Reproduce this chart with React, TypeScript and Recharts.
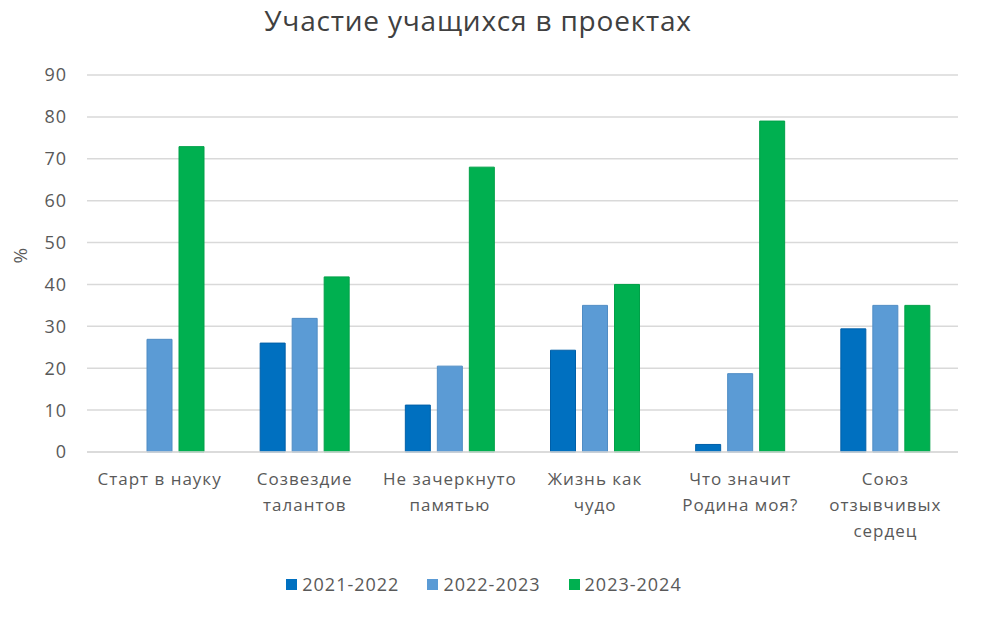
import React from 'react';
import { BarChart, Bar, XAxis, YAxis, CartesianGrid, Legend } from 'recharts';

const categories = [
  'Старт в науку',
  'Созвездие талантов',
  'Не зачеркнуто памятью',
  'Жизнь как чудо',
  'Что значит Родина моя?',
  'Союз отзывчивых сердец',
];
const categoryLines: string[][] = [
  ['Старт в науку'],
  ['Созвездие', 'талантов'],
  ['Не зачеркнуто', 'памятью'],
  ['Жизнь как', 'чудо'],
  ['Что значит', 'Родина моя?'],
  ['Союз', 'отзывчивых', 'сердец'],
];
const series2122: (number | null)[] = [null, 26, 11.2, 24.3, 1.8, 29.4];
const series2223: number[] = [26.9, 31.9, 20.5, 35, 18.7, 35];
const series2324: number[] = [72.9, 41.8, 68, 40, 79, 35];
const seriesNames = ['2021-2022', '2022-2023', '2023-2024'];
const seriesColors = ['#0070C0', '#5B9BD5', '#00B050'];
const yTicks = [0, 10, 20, 30, 40, 50, 60, 70, 80, 90];
const title = 'Участие учащихся в проектах';
const yLabel = '%';

const data = categories.map((c, i) => ({
  name: c,
  idx: i,
  s1: series2122[i],
  s2: series2223[i],
  s3: series2324[i],
}));

const FONT = '"Open Sans", "Noto Sans", sans-serif';
const TEXT = '#595959';

const XTick = (props: any) => {
  const { x, y, payload } = props;
  const lines = categoryLines[payload.index] || [String(payload.value)];
  return (
    <text x={x} y={y + 25} textAnchor="middle" fill={TEXT} fontSize={17} letterSpacing={1} fontFamily={FONT}>
      {lines.map((l, i) => (
        <tspan key={i} x={x} dy={i === 0 ? 0 : 26}>
          {l}
        </tspan>
      ))}
    </text>
  );
};

const LegendContent = () => (
  <div style={{ display: 'flex', justifyContent: 'center', gap: 28, fontFamily: FONT, fontSize: 18, letterSpacing: 1, color: TEXT, paddingTop: 5, paddingLeft: 10 }}>
    {seriesNames.map((n, i) => (
      <div key={n} style={{ display: 'flex', alignItems: 'center', gap: 5 }}>
        <div style={{ width: 11, height: 11, background: seriesColors[i] }} />
        <span>{n}</span>
      </div>
    ))}
  </div>
);

export default function App() {
  return (
    <div style={{ position: 'absolute', left: 0, top: 0, width: 981, height: 617, background: '#fff' }}>
      <div style={{ position: 'absolute', left: 0, top: 1, width: 956, textAlign: 'center', fontFamily: FONT, fontSize: 28, letterSpacing: 0.8, color: '#404040' }}>
        {title}
      </div>
      <BarChart
        width={981}
        height={617}
        data={data}
        margin={{ top: 75, right: 23, left: 0, bottom: 0 }}
        barCategoryGap={28}
        barGap={7}
      >
        <CartesianGrid vertical={false} stroke="#D9D9D9" strokeWidth={1.5} />
        <XAxis
          dataKey="name"
          axisLine={{ stroke: '#D9D9D9', strokeWidth: 1.5 }}
          tickLine={false}
          tick={<XTick />}
          interval={0}
          height={115}
        />
        <YAxis
          domain={[0, 90]}
          ticks={yTicks}
          axisLine={false}
          tickLine={false}
          tickSize={0}
          tickMargin={20}
          width={87}
          tick={{ fill: TEXT, fontSize: 18, letterSpacing: 1, fontFamily: FONT }}
          label={{ value: yLabel, angle: -90, position: 'insideLeft', offset: 20, fill: TEXT, fontSize: 19, fontFamily: FONT }}
        />
        <Legend verticalAlign="bottom" height={50} content={<LegendContent />} />
        <Bar dataKey="s1" name={seriesNames[0]} fill={seriesColors[0]} stroke="#005fa8" strokeWidth={1} isAnimationActive={false} />
        <Bar dataKey="s2" name={seriesNames[1]} fill={seriesColors[1]} stroke="#4f8cc4" strokeWidth={1} isAnimationActive={false} />
        <Bar dataKey="s3" name={seriesNames[2]} fill={seriesColors[2]} stroke="#00a048" strokeWidth={1} isAnimationActive={false} />
      </BarChart>
    </div>
  );
}
